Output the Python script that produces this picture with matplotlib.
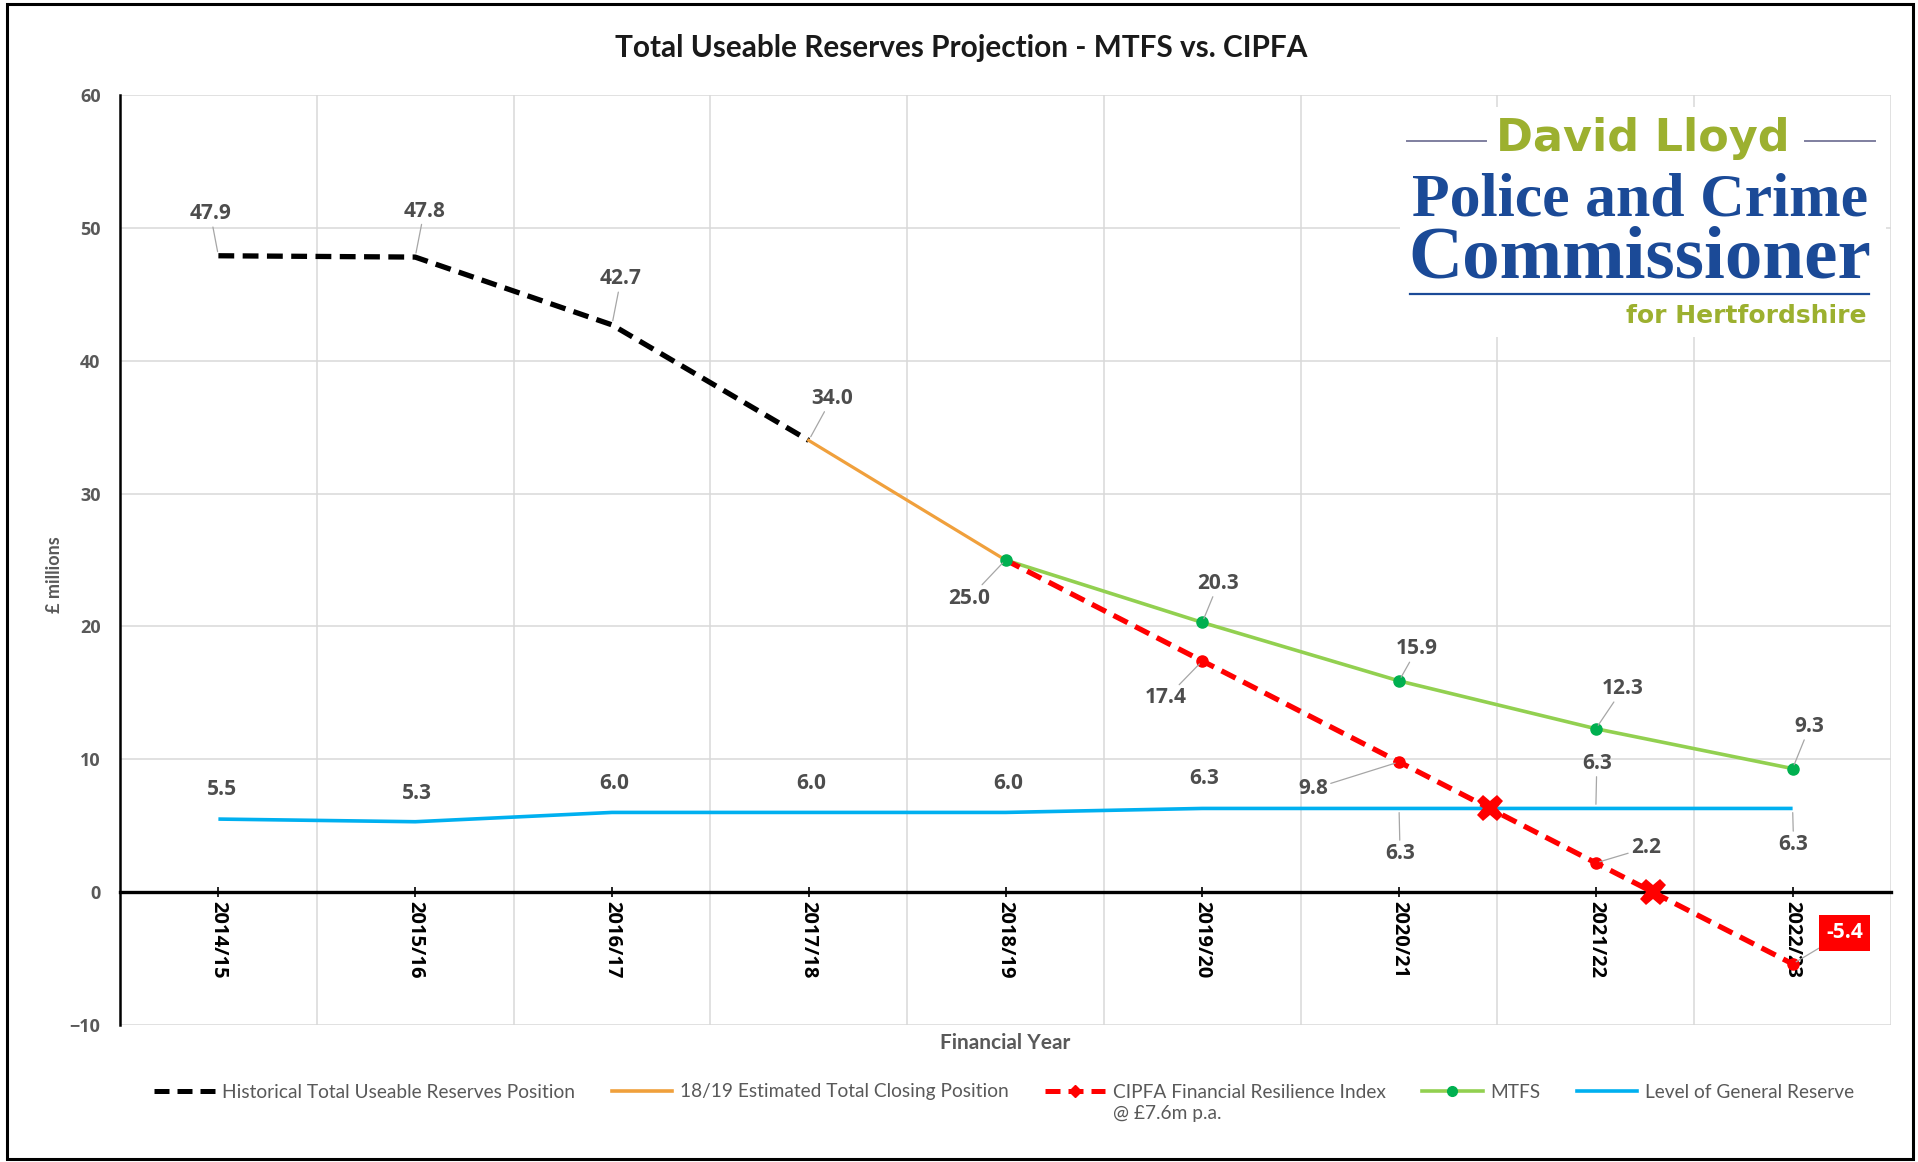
import numpy as np
import matplotlib
matplotlib.use("Agg")
import matplotlib.pyplot as plt
from matplotlib.lines import Line2D
from matplotlib.patches import Rectangle

# ---- data -------------------------------------------------------------
years = ["2014/15", "2015/16", "2016/17", "2017/18", "2018/19",
         "2019/20", "2020/21", "2021/22", "2022/23"]
historical = [47.9, 47.8, 42.7, 34.0]          # 2014/15 - 2017/18
estimated = [34.0, 25.0]                       # 2017/18 - 2018/19
cipfa = [25.0, 17.4, 9.8, 2.2, -5.4]           # 2018/19 - 2022/23
mtfs = [25.0, 20.3, 15.9, 12.3, 9.3]           # 2018/19 - 2022/23
general_reserve = [5.5, 5.3, 6.0, 6.0, 6.0, 6.3, 6.3, 6.3, 6.3]

y_ticks = [-10, 0, 10, 20, 30, 40, 50, 60]

# ---- label placement (offsets in pixels, leader line on/off) ------------
hist_offsets = [(-8, 42), (9, 46), (9, 46), (23, 42)]
hist_leader = [True, True, True, True]
est_offsets = [None, (-36, -38)]
mtfs_offsets = [None, (16, 39), (18, 32), (27, 40), (17, 42)]
cipfa_offsets = [None, (-36, -37), (-86, -27), (50, 15), (52, 31)]
reserve_offsets = [(4, 30), (2, 28), (2, 29), (2, 29), (3, 29),
                   (2, 30), (1, -45), (1, 45), (1, -36)]
reserve_leader = [False, False, False, False, False, False, True, True, True]

# ---- styles -------------------------------------------------------------
BLACK = "#000000"
ORANGE = "#F0A03C"
RED = "#FF0000"
GREEN_LINE = "#92D050"
GREEN_MARK = "#00B050"
BLUE = "#00B0F0"
GRID = "#D9D9D9"
LABEL = "#4D4D4D"
AXIS_TXT = "#595959"
LEADER = "#A6A6A6"
OLIVE = "#9CB02F"
NAVY = "#1B4A97"

TXT_FONT = ["Lato", "DejaVu Sans"]
NUM_FONT = ["Open Sans", "DejaVu Sans"]

W, H = 1918, 1162
fig = plt.figure(figsize=(W / 100, H / 100), dpi=100)
fig.patch.set_facecolor("white")


def fx(px):
    return px / W


def fy(py):
    return 1 - py / H


ax = fig.add_axes([fx(120), fy(1025), fx(1771), 930 / H])

# spine placement first: moving a spine rebuilds the tick objects
ax.spines["top"].set_visible(False)
ax.spines["right"].set_visible(False)
ax.spines["bottom"].set_position(("data", 0))
ax.spines["bottom"].set_linewidth(2.4)
ax.spines["bottom"].set_zorder(5)
ax.spines["left"].set_linewidth(1.8)

x = np.arange(len(years))
x_hist = x[:4]
x_est = x[3:5]
x_proj = x[4:]

dash = (0, (3.0, 1.6))

# general reserve
ax.plot(x, general_reserve, color=BLUE, lw=2.6, zorder=3, solid_capstyle="butt")
# historical
ax.plot(x_hist, historical, color=BLACK, lw=3.8, ls=dash, zorder=4)
# 18/19 estimate
ax.plot(x_est, estimated, color=ORANGE, lw=2.3, zorder=4)
# MTFS
ax.plot(x_proj, mtfs, color=GREEN_LINE, lw=2.6, zorder=5)
ax.plot(x_proj, mtfs, ls="none", marker="o", ms=8, color=GREEN_MARK, zorder=7)
# CIPFA
ax.plot(x_proj, cipfa, color=RED, lw=3.8, ls=dash, zorder=6)
ax.plot(x_proj[1:], cipfa[1:], ls="none", marker="o", ms=8, color=RED, zorder=7)


def crossings(xs, a, b):
    pts = []
    for i in range(len(xs) - 1):
        d0 = a[i] - b[i]
        d1 = a[i + 1] - b[i + 1]
        if d0 * d1 < 0:
            t = d0 / (d0 - d1)
            pts.append((xs[i] + t * (xs[i + 1] - xs[i]),
                        a[i] + t * (a[i + 1] - a[i])))
    return pts


cross_pts = crossings(x_proj, cipfa, general_reserve[4:]) + \
    crossings(x_proj, cipfa, [0.0] * len(cipfa))
for cx, cy in cross_pts:
    ax.plot(cx, cy, marker="X", ms=19, color=RED, mew=0, zorder=9)


# ---- data labels -------------------------------------------------------
def label(xv, yv, off, leader=True, **kw):
    props = dict(fontsize=15, fontweight="bold", color=LABEL,
                 family=NUM_FONT, ha="center", va="center")
    props.update(kw)
    arrow = None
    if leader:
        arrow = dict(arrowstyle="-", color=LEADER, lw=0.9,
                     shrinkA=0, shrinkB=3)
    ax.annotate(f"{yv:.1f}", xy=(xv, yv), xytext=off,
                textcoords="offset pixels", arrowprops=arrow,
                zorder=10, **props)


for xi, v, off, ld in zip(x_hist, historical, hist_offsets, hist_leader):
    label(xi, v, off, ld)
label(x_est[1], estimated[1], est_offsets[1])
for xi, v, off in zip(x_proj, mtfs, mtfs_offsets):
    if off is not None:
        label(xi, v, off)
for i, (xi, v, off) in enumerate(zip(x_proj, cipfa, cipfa_offsets)):
    if off is None:
        continue
    if i == len(cipfa) - 1:
        label(xi, v, off, color="white",
              bbox=dict(boxstyle="square,pad=0.35", fc=RED, ec="none"))
    else:
        label(xi, v, off)
for xi, v, off, ld in zip(x, general_reserve, reserve_offsets, reserve_leader):
    label(xi, v, off, ld)

# ---- axes styling -----------------------------------------------------
ax.set_xlim(-0.5, len(years) - 0.5)
ax.set_ylim(y_ticks[0], y_ticks[-1])
ax.set_yticks(y_ticks)
ax.set_xticks(x)
ax.set_xticklabels(years, rotation=-90, fontsize=14.5, fontweight="bold",
                   family=NUM_FONT, color="black", va="top", ha="center")
ax.set_xticks(np.arange(-0.5, len(years), 1), minor=True)
ax.tick_params(axis="x", which="major", direction="inout", length=7,
               width=1.2, color="black", pad=3)
ax.tick_params(axis="x", which="minor", length=0)
ax.tick_params(axis="y", length=0, pad=14)
for t in ax.get_yticklabels():
    t.set_fontsize(13)
    t.set_fontweight("bold")
    t.set_color(AXIS_TXT)
    t.set_family(NUM_FONT)

ax.grid(axis="y", color=GRID, lw=1.1, zorder=0)
ax.grid(axis="x", which="minor", color=GRID, lw=1.1, zorder=0)
ax.set_axisbelow(True)

ax.text(0.5, -0.019, "Financial Year", transform=ax.transAxes,
        ha="center", va="center", fontsize=15, fontweight="bold",
        color=AXIS_TXT, family=TXT_FONT)
ax.text(-0.037, 0.484, "£ millions", transform=ax.transAxes, rotation=90,
        ha="center", va="center", fontsize=13, fontweight="bold",
        color=AXIS_TXT, family=TXT_FONT)

# ---- title ------------------------------------------------------------
fig.text(fx(961), fy(48), "Total Useable Reserves Projection - MTFS vs. CIPFA",
         ha="center", va="center", fontsize=21.4, fontweight="bold",
         color="#1A1A1A", family=TXT_FONT)

# ---- logo -------------------------------------------------------------
fig.patches.append(Rectangle((fx(1400), fy(337)), fx(486), 230 / H,
                             transform=fig.transFigure, fc="white",
                             ec="none", zorder=2))
fig.text(fx(1643), fy(139), "David Lloyd", ha="center", va="center",
         fontsize=32, fontweight="bold", color=OLIVE,
         family=["DejaVu Sans"], zorder=3)
for x0, x1 in [(1407, 1486), (1805, 1875)]:
    fig.lines.append(Line2D([fx(x0), fx(x1)], [fy(141), fy(141)],
                            transform=fig.transFigure, color="#7F7F9F",
                            lw=1.4, zorder=3))
fig.text(fx(1640), fy(200), "Police and Crime", ha="center", va="center",
         fontsize=44.5, fontweight="bold", color=NAVY,
         family=["Liberation Serif"], zorder=3)
fig.text(fx(1640), fy(260), "Commissioner", ha="center", va="center",
         fontsize=54, fontweight="bold", color=NAVY,
         family=["Liberation Serif"], zorder=3)
fig.lines.append(Line2D([fx(1410), fx(1869)], [fy(294), fy(294)],
                        transform=fig.transFigure, color=NAVY, lw=1.6,
                        zorder=3))
fig.text(fx(1866), fy(316), "for Hertfordshire", ha="right", va="center",
         fontsize=18, fontweight="bold", color=OLIVE,
         family=["DejaVu Sans"], zorder=3)

# ---- legend -----------------------------------------------------------
handles = [
    Line2D([], [], color=BLACK, lw=3.6, ls=dash),
    Line2D([], [], color=ORANGE, lw=2.6),
    Line2D([], [], color=RED, lw=3.6, ls=dash, marker="D", ms=6),
    Line2D([], [], color=GREEN_LINE, lw=2.6, marker="o", ms=7,
           mfc=GREEN_MARK, mec=GREEN_MARK),
    Line2D([], [], color=BLUE, lw=2.6),
]
names = ["Historical Total Useable Reserves Position",
         "18/19 Estimated Total Closing Position",
         "CIPFA Financial Resilience Index",
         "MTFS",
         "Level of General Reserve"]
leg = fig.legend(handles, names, loc="center", ncol=5,
                 bbox_to_anchor=(fx(1004), fy(1092)), frameon=False,
                 prop={"family": TXT_FONT, "size": 13.8},
                 handlelength=3.15, handletextpad=0.4, columnspacing=1.9,
                 labelcolor=AXIS_TXT)

fig.canvas.draw()
ext = leg.get_texts()[2].get_window_extent()
fig.text(ext.x0 / W, (ext.y0 - 4) / H, "@ £7.6m p.a.", ha="left", va="top",
         fontsize=13.8, color=AXIS_TXT, family=TXT_FONT)

# ---- frame around the chart -------------------------------------------
fig.patches.append(Rectangle((fx(7), fy(1159)), fx(1906), 1155 / H,
                             transform=fig.transFigure, fill=False,
                             ec="black", lw=2.2, zorder=20))

fig.savefig("out.png", dpi=100, facecolor="white")
